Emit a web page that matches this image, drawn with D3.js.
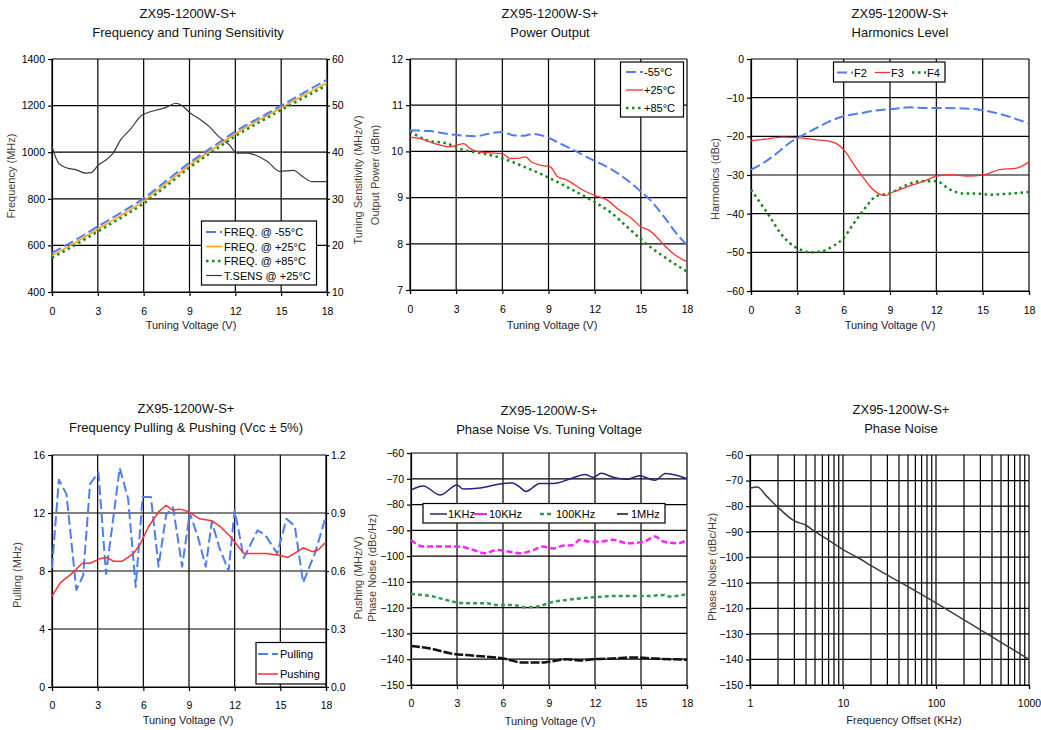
<!DOCTYPE html>
<html><head><meta charset="utf-8">
<script src="https://cdn.jsdelivr.net/npm/d3@7"></script>
<style>
body{margin:0;background:#fff;}
text{font-family:"Liberation Sans",Arial,sans-serif;}
</style></head><body>
<svg id="c" width="1041" height="730"></svg>
<script>
// ---------- DATA ----------
const voltTicks = [0,3,6,9,12,15,18];

// Panel 1: Frequency and Tuning Sensitivity
const freqV   = [0,1.5,3,4.5,6,7.5,9,10.5,12,13.5,15,16.5,18];
const freqM55 = [568,622,681,740,802,878,955,1022,1089,1145,1200,1256,1311];
const freqP25 = [557,611,670,728,790,866,944,1012,1079,1136,1191,1245,1298];
const freqP85 = [547,601,660,718,780,856,934,1002,1069,1126,1181,1235,1288];
const tsensV  = [0,0.44,0.98,1.6,2.2,2.55,3.05,3.6,4.0,4.5,5.1,5.9,6.2,6.9,7.4,8.1,8.5,9.05,9.7,10.3,10.9,11.6,12.1,12.8,13.3,14.1,14.9,15.8,16.4,17.0,18];
const tsens   = [41.2,37.6,36.6,36.2,35.5,35.6,37.3,38.5,39.8,42.7,44.8,48.0,48.4,49.1,49.5,50.5,50.0,48.4,47.0,45.5,43.4,41.6,39.8,39.8,39.4,38.0,35.9,36.1,34.8,33.7,33.7];

// Panel 2: Power Output
const pwr55V = [0,1.3,2.6,3.5,4.3,5.2,6,6.7,7.4,8,8.9,9.7,10.8,11.9,13,14.1,15,15.6,16.5,17.3,18];
const pwr55  = [10.46,10.44,10.37,10.34,10.33,10.39,10.42,10.35,10.34,10.38,10.31,10.18,10.0,9.81,9.63,9.38,9.13,8.95,8.59,8.23,7.97];
const pwr25V = [0,0.65,1.5,2.6,3.0,3.5,3.9,4.5,5.2,6,6.5,7,7.5,7.9,8.5,9.1,9.6,10.2,11.25,12,12.8,13.6,14.4,15,15.6,16.1,16.6,17.1,18];
const pwr25  = [10.31,10.28,10.18,10.10,10.13,10.17,10.06,9.99,9.97,9.95,9.85,9.85,9.88,9.77,9.70,9.67,9.45,9.38,9.16,9.05,8.95,8.73,8.55,8.37,8.28,8.12,7.94,7.79,7.61];
const pwr85V = [0,1.1,2.4,3.5,4.8,6,7.4,8.9,10.2,11.7,13,14.1,15.2,16.5,18];
const pwr85  = [10.44,10.24,10.17,10.03,9.95,9.85,9.67,9.45,9.23,8.96,8.69,8.37,8.04,7.72,7.40];

// Panel 3: Harmonics Level
const f2V = [0,0.8,1.7,2.5,3.4,4.25,5.1,6,7.1,8.1,9.2,10.3,11.4,12.5,13.8,14.8,15.9,17,18];
const f2  = [-28.6,-26.9,-24.3,-21.7,-19.6,-17.8,-16.1,-14.8,-14.0,-13.3,-12.9,-12.5,-12.7,-12.7,-12.8,-13.1,-14.0,-15.3,-16.7];
const f3V = [0,1,2.1,3.2,4.25,5.1,5.55,6.1,6.6,7.2,7.7,8.25,8.7,9.2,9.9,10.5,11.2,12,12.9,14,15.1,16.1,17.2,18];
const f3  = [-21.1,-20.7,-20.2,-20.4,-20.9,-21.3,-21.9,-23.9,-26.9,-30.3,-32.9,-34.8,-35.3,-34.4,-33.4,-32.5,-31.6,-30.3,-29.9,-30.3,-29.9,-28.6,-28.2,-26.6];
const f4V = [0,0.6,1.2,1.9,2.5,3.2,3.8,4.6,5.3,6,6.6,7.3,8.1,9,9.9,11,12,12.9,13.8,14.6,15.5,16.4,17.2,18];
const f4  = [-33.8,-37.2,-40.7,-45,-47.6,-49.3,-50,-49.7,-48.4,-46.3,-42.8,-39,-35.5,-34.7,-32.9,-31.6,-31.6,-33.8,-34.8,-34.8,-35.1,-34.9,-34.7,-34.4];

// Panel 4: Pulling & Pushing
const pullV = [0,0.45,0.95,1.6,2.05,2.5,3.05,3.55,4.45,5.0,5.5,5.95,6.5,7.0,7.5,7.95,8.55,9.05,9.6,10.1,10.5,11.0,11.6,12.0,12.6,13.5,14.0,14.8,15.4,15.95,16.5,17.3,18];
const pull  = [8.2,14.3,13.3,6.7,7.7,14.0,14.8,7.8,15.1,13.0,6.9,13.1,13.1,8.3,11.9,12.4,8.3,12.0,10.3,8.3,11.4,9.6,8.0,12.2,8.9,10.8,10.5,9.2,11.6,11.1,7.2,9.3,11.8];
const pushV = [0,0.55,1.2,2,2.5,3.2,3.6,4.05,4.6,5.35,5.8,6.35,7,7.5,7.9,8.4,9,9.7,10.5,11.05,11.7,12,12.6,14.1,15,15.5,16.5,17.1,17.5,18];
const push  = [0.47,0.54,0.58,0.64,0.64,0.665,0.67,0.65,0.65,0.69,0.74,0.83,0.906,0.94,0.915,0.92,0.906,0.87,0.86,0.83,0.78,0.75,0.69,0.69,0.68,0.67,0.72,0.70,0.71,0.75];

// Panel 5: Phase Noise vs Tuning Voltage
const pn1kV = [0,0.8,1.9,3.0,3.4,4.5,5.8,6.6,7.0,7.5,8.4,9.3,10.4,11.35,11.9,12.4,13.2,14.1,14.9,15.9,16.6,17.3,18];
const pn1k  = [-74.4,-72.8,-76.3,-72.4,-74,-73.6,-72.0,-71.6,-72.8,-74.9,-71.8,-71.8,-70,-68.3,-69.4,-67.9,-69.4,-70.2,-68.8,-70.6,-68.0,-68.6,-70];
const pn10kV = [0,0.8,1.9,3.1,4.07,4.8,5.6,6.45,7.1,8.0,8.6,9.3,9.9,10.6,11,11.7,12.3,13.2,14.1,15.2,15.9,16.5,17.4,18];
const pn10k  = [-93.7,-96.3,-96.3,-96.3,-97.6,-98.9,-97.6,-98.3,-98.9,-97.6,-96.3,-97,-96,-95.7,-93.7,-94.4,-94.4,-93.7,-95,-94.4,-92.4,-94.4,-95,-93.7];
const pn100kV = [0,1.46,2.76,3.6,4.9,5.6,6.7,7.5,8.4,9.3,10.15,11,11.9,13.2,14.5,15.4,16.5,16.9,18];
const pn100k  = [-114.7,-115.7,-117.7,-118.3,-118.3,-119,-119,-119.9,-119.3,-117.7,-117,-116.4,-116,-115.5,-115.5,-115.5,-115.1,-115.7,-114.7];
const pn1mV = [0,1.24,2.54,3.6,4.9,6,7.3,8.4,9.07,10.15,11,11.9,13.2,14.5,15.8,16.9,18];
const pn1m  = [-134.9,-135.8,-137.7,-138.4,-139,-139.7,-141.3,-141.3,-140.9,-140,-140.5,-140,-139.7,-139.3,-139.7,-140,-140.2];

// Panel 6: Phase Noise vs offset
const pnOff = [1,1.2,1.5,2,3,4,5,7,10,15,20,30,50,100,200,300,500,1000];
const pnVal = [-73,-72.5,-76,-80.5,-85.8,-87.5,-90,-93.3,-97,-100.5,-103.3,-107,-111.5,-117.9,-124.5,-128.4,-133.3,-140];
const offTicks = [1,10,100,1000];

const title1 = "ZX95-1200W-S+";

// ---------- STYLES ----------
const ST = {
  blue:   {c:"#4d7cf5", w:2,   d:"10,4"},
  orange: {c:"#ffa41c", w:1.6, d:null},
  green:  {c:"#138a13", w:2.5, d:"2.5,3.5"},
  gray:   {c:"#3a3a3a", w:1.2, d:null},
  red:    {c:"#ff3030", w:1.3, d:null},
  navy:   {c:"#25257e", w:1.5, d:null},
  magenta:{c:"#ff22ff", w:2.5, d:"6,3"},
  green2: {c:"#2f9a52", w:2.5, d:"4,3"},
  black:  {c:"#111",    w:2.5, d:"9,2"}
};

const svg = d3.select("#c");
const FONT_TICK = "10.5px", FONT_LBL = "11px", FONT_TTL = "13px";
const ytitleColor = "#4a3c30";

function styleAxis(g){
  g.select(".domain").attr("stroke","#000").attr("stroke-width",1.2);
  g.selectAll(".tick line").attr("stroke","#000").attr("stroke-width",1.2);
  g.selectAll(".tick text").attr("font-size",FONT_TICK).attr("fill","#000")
    .attr("font-family","'Liberation Sans',Arial,sans-serif");
}

function panel(o){
  const g = svg.append("g");
  const x = (o.xLog ? d3.scaleLog() : d3.scaleLinear()).domain(o.xDomain).range([o.l,o.r]);
  const y = d3.scaleLinear().domain(o.yDomain).range([o.b,o.t]);
  // grid
  g.selectAll(".vg").data(o.xGrid).join("line")
    .attr("x1",d=>x(d)).attr("x2",d=>x(d)).attr("y1",o.t).attr("y2",o.b)
    .attr("stroke","#000").attr("stroke-width",1.2);
  g.selectAll(".hg").data(o.yTicks).join("line")
    .attr("x1",o.l).attr("x2",o.r).attr("y1",d=>y(d)).attr("y2",d=>y(d))
    .attr("stroke","#000").attr("stroke-width",1.2);
  // axes
  const xa = d3.axisBottom(x).tickValues(o.xTicks).tickSize(4).tickPadding(o.xPad)
    .tickFormat(o.xFormat || d3.format("d"));
  g.append("g").attr("transform",`translate(0,${o.b})`).call(xa).call(styleAxis);
  const ya = d3.axisLeft(y).tickValues(o.yTicks).tickSize(4).tickPadding(3).tickFormat(d3.format("d"));
  g.append("g").attr("transform",`translate(${o.l},0)`).call(ya).call(styleAxis);
  let y2 = null;
  if (o.y2Domain){
    y2 = d3.scaleLinear().domain(o.y2Domain).range([o.b,o.t]);
    const ya2 = d3.axisRight(y2).tickValues(o.y2Ticks).tickSize(3).tickPadding(2).tickFormat(o.y2Format);
    g.append("g").attr("transform",`translate(${o.r},0)`).call(ya2).call(styleAxis);
  }
  // titles
  g.append("text").attr("x",o.tx).attr("y",o.ty).attr("text-anchor","middle")
    .attr("font-size",FONT_TTL).attr("fill","#111").text(title1);
  g.append("text").attr("x",o.tx).attr("y",o.ty+19).attr("text-anchor","middle")
    .attr("font-size",FONT_TTL).attr("fill","#111").text(o.title);
  g.append("text").attr("x",o.xlx).attr("y",o.xly).attr("text-anchor","middle")
    .attr("font-size",FONT_LBL).attr("fill","#1a1a2a").text(o.xLabel);
  (o.yLabels||[]).forEach(L=>{
    g.append("text").attr("transform",`translate(${L.x},${L.y}) rotate(-90)`)
      .attr("text-anchor","middle").attr("font-size",FONT_LBL).attr("fill",ytitleColor).text(L.t);
  });
  return {g,x,y,y2};
}

function drawLine(P, xs, ys, st, yscale, curve){
  const ys2 = yscale || P.y;
  const data = xs.map((v,i)=>[v,ys[i]]);
  const line = d3.line().x(d=>P.x(d[0])).y(d=>ys2(d[1])).curve(curve || d3.curveMonotoneX);
  const p = P.g.append("path").datum(data).attr("d",line).attr("fill","none")
    .attr("stroke",st.c).attr("stroke-width",st.w).attr("stroke-linejoin","round");
  if (st.d) p.attr("stroke-dasharray",st.d);
}

function legendBox(P, x0,y0,x1,y1){
  P.g.append("rect").attr("x",x0).attr("y",y0).attr("width",x1-x0).attr("height",y1-y0)
    .attr("fill","#fff").attr("stroke","#000").attr("stroke-width",1.2);
}
function legendItem(P, lx0, lx1, ly, tx, label, st){
  const l = P.g.append("line").attr("x1",lx0).attr("x2",lx1).attr("y1",ly).attr("y2",ly)
    .attr("stroke",st.c).attr("stroke-width",st.w);
  if (st.d) l.attr("stroke-dasharray",st.d);
  P.g.append("text").attr("x",tx).attr("y",ly+4).attr("font-size",FONT_LBL).attr("fill","#000").text(label);
}

// ---------- PANEL 1 ----------
const P1 = panel({l:52,r:327,t:59,b:292,xDomain:[0,18],yDomain:[400,1400],
  xGrid:voltTicks,xTicks:voltTicks,yTicks:[400,600,800,1000,1200,1400],xPad:12,
  y2Domain:[10,60],y2Ticks:[10,20,30,40,50,60],y2Format:d3.format("d"),
  tx:188,ty:18,title:"Frequency and Tuning Sensitivity",xlx:191,xly:329,xLabel:"Tuning Voltage (V)",
  yLabels:[{x:15,y:176,t:"Frequency (MHz)"},{x:362,y:180,t:"Tuning Sensitivity (MHz/V)"}]});
drawLine(P1, tsensV, tsens, ST.gray, P1.y2);
drawLine(P1, freqV, freqP85, ST.green);
drawLine(P1, freqV, freqP25, ST.orange);
drawLine(P1, freqV, freqM55, ST.blue);
legendBox(P1, 201.5,221,316.5,285);
legendItem(P1, 206,222,232,224,"FREQ. @ -55°C",ST.blue);
legendItem(P1, 206,222,246.5,224,"FREQ. @ +25°C",ST.orange);
legendItem(P1, 206,222,261,224,"FREQ. @ +85°C",ST.green);
legendItem(P1, 206,222,275.5,224,"T.SENS @ +25°C",ST.gray);

// ---------- PANEL 2 ----------
const P2 = panel({l:410,r:687,t:59,b:290,xDomain:[0,18],yDomain:[7,12],
  xGrid:voltTicks,xTicks:voltTicks,yTicks:[7,8,9,10,11,12],xPad:12,
  tx:550,ty:18,title:"Power Output",xlx:552,xly:329,xLabel:"Tuning Voltage (V)",
  yLabels:[{x:379,y:175,t:"Output Power (dBm)"}]});
drawLine(P2, pwr85V, pwr85, ST.green);
drawLine(P2, pwr25V, pwr25, ST.red);
drawLine(P2, pwr55V, pwr55, ST.blue);
legendBox(P2, 620.5,62,683.5,117);
legendItem(P2, 626,643,72,644,"-55°C",ST.blue);
legendItem(P2, 626,643,90,644,"+25°C",ST.red);
legendItem(P2, 626,643,108,644,"+85°C",ST.green);

// ---------- PANEL 3 ----------
const P3 = panel({l:751,r:1029,t:59,b:291,xDomain:[0,18],yDomain:[-60,0],
  xGrid:voltTicks,xTicks:voltTicks,yTicks:[-60,-50,-40,-30,-20,-10,0],xPad:12,
  tx:900,ty:18,title:"Harmonics Level",xlx:890,xly:329,xLabel:"Tuning Voltage (V)",
  yLabels:[{x:719,y:179,t:"Harmonics (dBc)"}]});
drawLine(P3, f4V, f4, ST.green);
drawLine(P3, f3V, f3, ST.red);
drawLine(P3, f2V, f2, ST.blue);
legendBox(P3, 833.5,62,945,82);
legendItem(P3, 837,853,72.5,854,"F2",ST.blue);
legendItem(P3, 875,890,72.5,891,"F3",ST.red);
legendItem(P3, 912,926,72.5,927,"F4",ST.green);

// ---------- PANEL 4 ----------
const P4 = panel({l:52,r:326,t:455,b:687,xDomain:[0,18],yDomain:[0,16],
  xGrid:voltTicks,xTicks:voltTicks,yTicks:[0,4,8,12,16],xPad:10.5,
  y2Domain:[0,1.2],y2Ticks:[0,0.3,0.6,0.9,1.2],y2Format:d3.format(".1f"),
  tx:186,ty:413,title:"Frequency Pulling & Pushing (Vcc ± 5%)",xlx:188,xly:724,xLabel:"Tuning Voltage (V)",
  yLabels:[{x:21,y:575,t:"Pulling (MHz)"},{x:362,y:578,t:"Pushing (MHz/V)"}]});
drawLine(P4, pullV, pull, ST.blue, null, d3.curveLinear);
drawLine(P4, pushV, push, {c:"#ff3030",w:1.5,d:null}, P4.y2, d3.curveLinear);
legendBox(P4, 256,642.5,326,684);
legendItem(P4, 258,278,654,280,"Pulling",ST.blue);
legendItem(P4, 258,278,674,280,"Pushing",{c:"#ff3030",w:1.5,d:null});

// ---------- PANEL 5 ----------
const P5 = panel({l:411,r:687,t:453,b:685,xDomain:[0,18],yDomain:[-150,-60],
  xGrid:voltTicks,xTicks:voltTicks,yTicks:[-150,-140,-130,-120,-110,-100,-90,-80,-70,-60],xPad:10.5,
  tx:549,ty:415,title:"Phase Noise Vs. Tuning Voltage",xlx:550,xly:725,xLabel:"Tuning Voltage (V)",
  yLabels:[{x:376,y:568,t:"Phase Noise (dBc/Hz)"}]});
drawLine(P5, pn1kV, pn1k, ST.navy);
drawLine(P5, pn10kV, pn10k, ST.magenta);
drawLine(P5, pn100kV, pn100k, ST.green2);
drawLine(P5, pn1mV, pn1m, ST.black);
legendBox(P5, 423,503.5,665,523);
legendItem(P5, 430,447,514,448,"1KHz",ST.navy);
legendItem(P5, 474,487,514,489,"10KHz",{c:ST.magenta.c,w:2,d:null});
legendItem(P5, 540,554,514,556,"100KHz",ST.green2);
legendItem(P5, 617,628,514,631,"1MHz",{c:"#111",w:1.5,d:null});

// ---------- PANEL 6 ----------
const logGrid = [];
[1,10,100].forEach(dec=>{for(let k=1;k<10;k++) logGrid.push(dec*k);});
logGrid.push(1000);
const P6 = panel({l:750,r:1029,t:455,b:685,xLog:true,xDomain:[1,1000],yDomain:[-150,-60],
  xGrid:logGrid,xTicks:offTicks,yTicks:[-150,-140,-130,-120,-110,-100,-90,-80,-70,-60],xPad:10.5,
  xFormat:d3.format("d"),
  tx:901,ty:414,title:"Phase Noise",xlx:904,xly:724,xLabel:"Frequency Offset (KHz)",
  yLabels:[{x:716,y:567,t:"Phase Noise (dBc/Hz)"}]});
drawLine(P6, pnOff, pnVal, {c:"#3c3c3c",w:1.5,d:null});
</script></body></html>
